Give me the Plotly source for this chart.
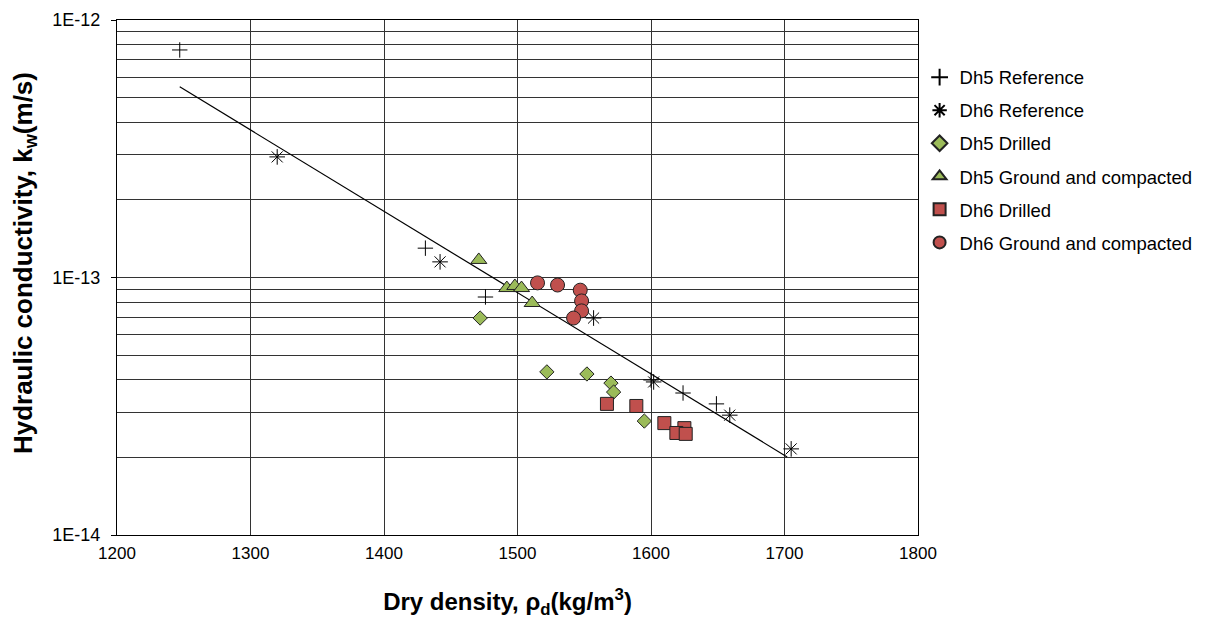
import plotly.graph_objects as go

# Data
dh5_ref_x = [1247, 1431, 1476, 1600, 1624, 1649]
dh5_ref_y = [7.65e-13, 1.30e-13, 8.4e-14, 4.0e-14, 3.56e-14, 3.23e-14]

dh6_ref_x = [1320, 1442, 1557, 1602, 1659, 1705]
dh6_ref_y = [2.94e-13, 1.15e-13, 6.96e-14, 3.93e-14, 2.92e-14, 2.16e-14]

dh5_dr_x = [1472, 1522, 1552, 1570, 1572, 1595]
dh5_dr_y = [6.96e-14, 4.30e-14, 4.22e-14, 3.89e-14, 3.59e-14, 2.77e-14]

dh5_gc_x = [1471, 1492, 1498, 1503, 1511]
dh5_gc_y = [1.17e-13, 9.1e-14, 9.27e-14, 9.1e-14, 7.96e-14]

dh6_dr_x = [1567, 1589, 1610, 1625, 1619, 1626]
dh6_dr_y = [3.23e-14, 3.17e-14, 2.72e-14, 2.60e-14, 2.49e-14, 2.47e-14]

dh6_gc_x = [1515, 1530, 1547, 1548, 1548, 1542]
dh6_gc_y = [9.53e-14, 9.35e-14, 8.93e-14, 8.11e-14, 7.42e-14, 6.96e-14]

trend_x = [1247, 1702]
trend_y = [5.5e-13, 2.01e-14]

x_ticks = [1200, 1300, 1400, 1500, 1600, 1700, 1800]
y_ticks = [1e-14, 1e-13, 1e-12]
y_tick_labels = ["1E-14", "1E-13", "1E-12"]

green = "#9BBB59"
red = "#C0504D"

fig = go.Figure()

fig.add_trace(go.Scatter(x=trend_x, y=trend_y, mode="lines",
                         line=dict(color="black", width=1.2), showlegend=False, hoverinfo="skip"))

fig.add_trace(go.Scatter(x=dh5_ref_x, y=dh5_ref_y, mode="markers", name="Dh5 Reference", legendgroup="a",
                         marker=dict(symbol="cross-thin", size=11, color="black",
                                     line=dict(color="black", width=1))))
fig.add_trace(go.Scatter(x=dh6_ref_x, y=dh6_ref_y, mode="markers", name="Dh6 Reference", legendgroup="b",
                         marker=dict(symbol="asterisk-open", size=13, color="black",
                                     line=dict(color="black", width=1))))
fig.add_trace(go.Scatter(x=dh5_dr_x, y=dh5_dr_y, mode="markers", name="Dh5 Drilled", legendgroup="c",
                         marker=dict(symbol="diamond", size=11, color=green, line=dict(color="#222", width=1))))
fig.add_trace(go.Scatter(x=dh5_gc_x, y=dh5_gc_y, mode="markers", name="Dh5 Ground and compacted", legendgroup="d",
                         marker=dict(symbol="triangle-up", size=14, color=green, line=dict(color="#222", width=1))))
fig.add_trace(go.Scatter(x=dh6_dr_x, y=dh6_dr_y, mode="markers", name="Dh6 Drilled", legendgroup="e",
                         marker=dict(symbol="square", size=13, color=red, line=dict(color="#222", width=1))))
fig.add_trace(go.Scatter(x=dh6_gc_x, y=dh6_gc_y, mode="markers", name="Dh6 Ground and compacted", legendgroup="f",
                         marker=dict(symbol="circle", size=14, color=red, line=dict(color="#222", width=1))))

# minor log grid values (2..9 within each decade)
minor_vals = [m * dec for dec in y_ticks[:-1] for m in range(2, 10)]

# page body has an 8px margin, so the figure is sized/offset to compensate
fig.update_layout(
    width=1211, height=611,
    paper_bgcolor="white", plot_bgcolor="white",
    margin=dict(l=109, r=301, t=12, b=84),
    font=dict(family="Liberation Sans, Arial, sans-serif", size=16, color="black"),
    legend=dict(x=1.002, y=0.925, xanchor="left", yanchor="top",
                font=dict(size=18.5), itemsizing="constant", tracegroupgap=6,
                bgcolor="rgba(0,0,0,0)"),
)
fig.update_xaxes(range=[1200, 1800], tickvals=x_ticks, showgrid=True, gridcolor="#333", gridwidth=1,
                 showline=True, linecolor="black", linewidth=1, mirror=True, zeroline=False,
                 ticks="", tickfont=dict(size=17), automargin=False, ticklabelstandoff=3,
                 title=dict(text="<b>Dry density, ρ<sub>d</sub>(kg/m<sup>3</sup>)&nbsp;&nbsp;&nbsp;</b>",
                            font=dict(size=24), standoff=36))
fig.update_yaxes(type="log", range=[-14, -12], tickvals=y_ticks, ticktext=y_tick_labels,
                 showgrid=True, gridcolor="#333", gridwidth=1,
                 minor=dict(tickvals=minor_vals, showgrid=True, gridcolor="#333", gridwidth=1, ticks=""),
                 showline=True, linecolor="black", linewidth=1, mirror=True,
                 ticks="outside", ticklen=5, tickcolor="black", tickfont=dict(size=18), automargin=False,
                 ticklabelstandoff=7,
                 title=dict(text="<b>&nbsp;&nbsp;&nbsp;&nbsp;Hydraulic conductivity, k<sub>w</sub>(m/s)</b>",
                            font=dict(size=26), standoff=30))

fig.write_html("out.html")
